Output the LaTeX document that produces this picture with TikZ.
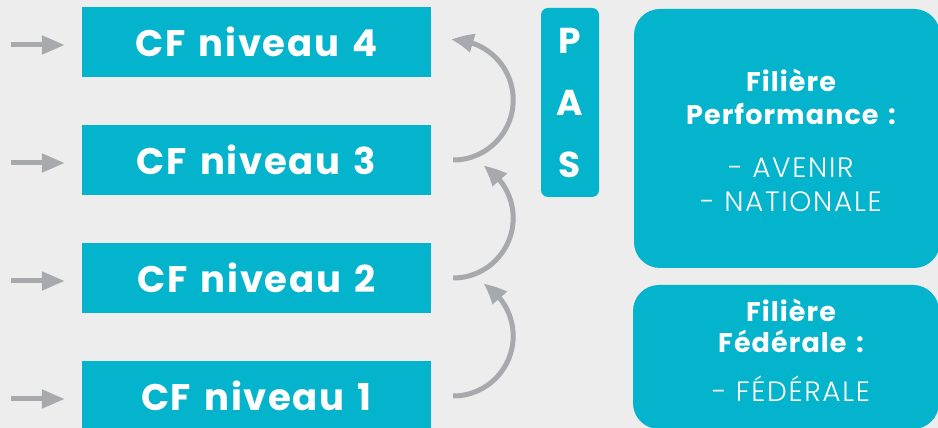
\documentclass[tikz,border=0pt]{standalone}
\usepackage{fontspec}
\setmainfont{Poppins}
\newfontfamily\cffont{Poppins}[LetterSpace=4.5,WordSpace=1.4]
\newfontfamily\titlefont{Poppins}[LetterSpace=4,WordSpace=1.4]
\newfontfamily\lightfont{Poppins Light}[LetterSpace=6]
\usetikzlibrary{arrows.meta,bending}
\definecolor{teal}{HTML}{04B3CC}
\definecolor{bg}{HTML}{ECEDEC}
\definecolor{arr}{HTML}{A8A9AC}
\tikzset{
  cfbox/.style={fill=teal, minimum width=349pt, minimum height=70pt, inner sep=0pt, text=white,
    font=\cffont\bfseries\fontsize{37}{40}\selectfont},
  pasbox/.style={fill=teal, rounded corners=7pt, minimum width=58pt, minimum height=189pt, inner sep=0pt,
    text=white, align=center, font=\bfseries\fontsize{36}{62}\selectfont},
  fbox/.style={fill=teal, rounded corners=26pt, inner sep=0pt},
  ftitle/.style={anchor=base, text=white, inner sep=0pt, font=\titlefont\bfseries\fontsize{27}{30}\selectfont},
  fitem/.style={anchor=base, text=white, inner sep=0pt, font=\lightfont\fontsize{28}{30}\selectfont},
  larrow/.style={draw=arr, line width=5pt, -{Triangle[length=23pt,width=18pt]}, shorten >=17pt},
  carrow/.style={draw=arr, line width=5pt, -{Triangle[length=22pt,width=18pt,bend]}},
}
\begin{document}
\begin{tikzpicture}[x=1pt,y=1pt]
\useasboundingbox (0,0) rectangle (938,428);
\clip (0,0) rectangle (938,428);
\fill[bg] (0,0) rectangle (938,428);
% level boxes
\node[cfbox] (n4) at (256.5,386) {CF niveau 4};
\node[cfbox] (n3) at (256.5,268) {CF niveau 3};
\node[cfbox] (n2) at (256.5,150) {CF niveau 2};
\node[cfbox] (n1) at (256.5,32) {CF niveau 1};
% left arrows
\coordinate (s4) at (11,383);
\coordinate (s3) at (11,265);
\coordinate (s2) at (11,147);
\coordinate (s1) at (11,29);
\draw[larrow] (s4) -- (s4 -| n4.west);
\draw[larrow] (s3) -- (s3 -| n3.west);
\draw[larrow] (s2) -- (s2 -| n2.west);
\draw[larrow] (s1) -- (s1 -| n1.west);
% curved arrows
\draw[carrow] ([xshift=22pt]n1.east) arc[start angle=-90,end angle=60,radius=60];
\draw[carrow] ([xshift=22pt]n2.east) arc[start angle=-90,end angle=60,radius=60];
\draw[carrow] ([xshift=22pt]n3.east) arc[start angle=-90,end angle=92,radius=60];
% PAS
\node[pasbox] (pas) at (570,325.5) {P\\A\\S};
% Filiere Performance
\node[fbox, minimum width=306pt, minimum height=259pt] (perf) at (787,289.5) {};
\node[ftitle] (pt1) at (791,336) {Filière};
\node[ftitle] (pt2) at (791,303) {Performance :};
\node[fitem] (pi1) at (791,250) {- AVENIR};
\node[fitem] (pi2) at (791,216) {- NATIONALE};
% Filiere Federale
\node[fbox, minimum width=306pt, minimum height=144pt] (fed) at (786,71) {};
\node[ftitle] (ft1) at (791,106) {Filière};
\node[ftitle] (ft2) at (791,75) {Fédérale :};
\node[fitem] (fi1) at (791,26) {- FÉDÉRALE};
\end{tikzpicture}
\end{document}
